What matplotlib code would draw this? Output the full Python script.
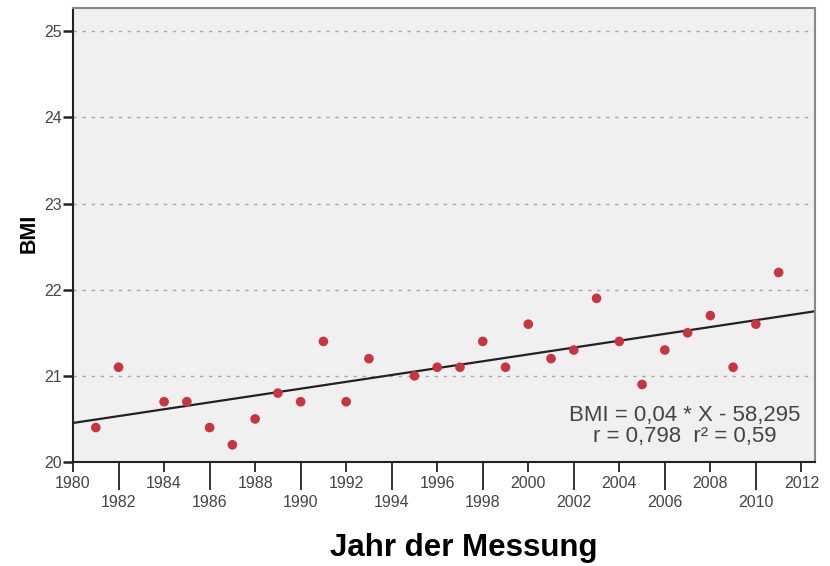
import matplotlib.pyplot as plt
import numpy as np

plt.rcParams['font.family'] = ['Liberation Sans', 'DejaVu Sans']

years = [1981, 1982, 1984, 1985, 1986, 1987, 1988, 1989, 1990, 1991, 1992, 1993,
         1995, 1996, 1997, 1998, 1999, 2000, 2001, 2002, 2003, 2004, 2005, 2006,
         2007, 2008, 2009, 2010, 2011]
bmi = [20.4, 21.1, 20.7, 20.7, 20.4, 20.2, 20.5, 20.8, 20.7, 21.4, 20.7, 21.2,
       21.0, 21.1, 21.1, 21.4, 21.1, 21.6, 21.2, 21.3, 21.9, 21.4, 20.9, 21.3,
       21.5, 21.7, 21.1, 21.6, 22.2]
major_years = [1980, 1984, 1988, 1992, 1996, 2000, 2004, 2008, 2012]
minor_years = [1982, 1986, 1990, 1994, 1998, 2002, 2006, 2010]
yticks = [20, 21, 22, 23, 24, 25]
fit_text = "BMI = 0,04 * X - 58,295\nr = 0,798  r² = 0,59"

fig = plt.figure(figsize=(8.3, 5.66), dpi=100)
ax = fig.add_axes([0.088, 0.1837, 0.894, 0.8022])
ax.set_facecolor('#f0f0f0')

ax.set_xlim(1980, 2012.6)
ax.set_ylim(20, 25.27)

# gepunktete Hilfslinien
for y in yticks[1:]:
    ax.axhline(y, color='#a8a8a8', lw=1.0, ls=(0, (2.5, 4)), zorder=1)

# Regressionsgerade
slope, icpt = np.polyfit(years, bmi, 1)
xs = np.array(ax.get_xlim())
ax.plot(xs, slope * xs + icpt, color='#222222', lw=1.6, zorder=2)

ax.scatter(years, bmi, s=48, color='#c83440', edgecolors='none', zorder=3)

ax.text(0.824, 0.08, fit_text, transform=ax.transAxes, ha='center', va='center',
        multialignment='center', fontsize=16, color='#444444', linespacing=1.0)

# Achsen
for side in ['top', 'right']:
    ax.spines[side].set_color('#888888')
    ax.spines[side].set_linewidth(1.5)
for side in ['left', 'bottom']:
    ax.spines[side].set_color('#222222')
    ax.spines[side].set_linewidth(1.5)

ax.set_xticks(major_years)
ax.set_xticks(minor_years, minor=True)
ax.set_xticklabels([str(y) for y in major_years])
ax.set_xticklabels([str(y) for y in minor_years], minor=True)
ax.tick_params(axis='x', which='major', length=7, width=1.3, color='#222222',
               labelsize=11.5, labelcolor='#444444', pad=3)
ax.tick_params(axis='x', which='minor', length=20, width=1.3, color='#222222',
               labelsize=11.5, labelcolor='#444444', pad=4)

ax.set_yticks(yticks)
ax.tick_params(axis='y', length=7, width=1.8, color='#222222',
               labelsize=11.5, labelcolor='#444444', pad=1)

fig.text(0.035, 0.588, 'BMI', rotation=90, ha='center', va='center',
         fontsize=15.5, fontweight='bold')
fig.text(0.559, 0.032, 'Jahr der Messung', ha='center', va='center',
         fontsize=22.5, fontweight='bold')

fig.savefig('out.png', dpi=100)
